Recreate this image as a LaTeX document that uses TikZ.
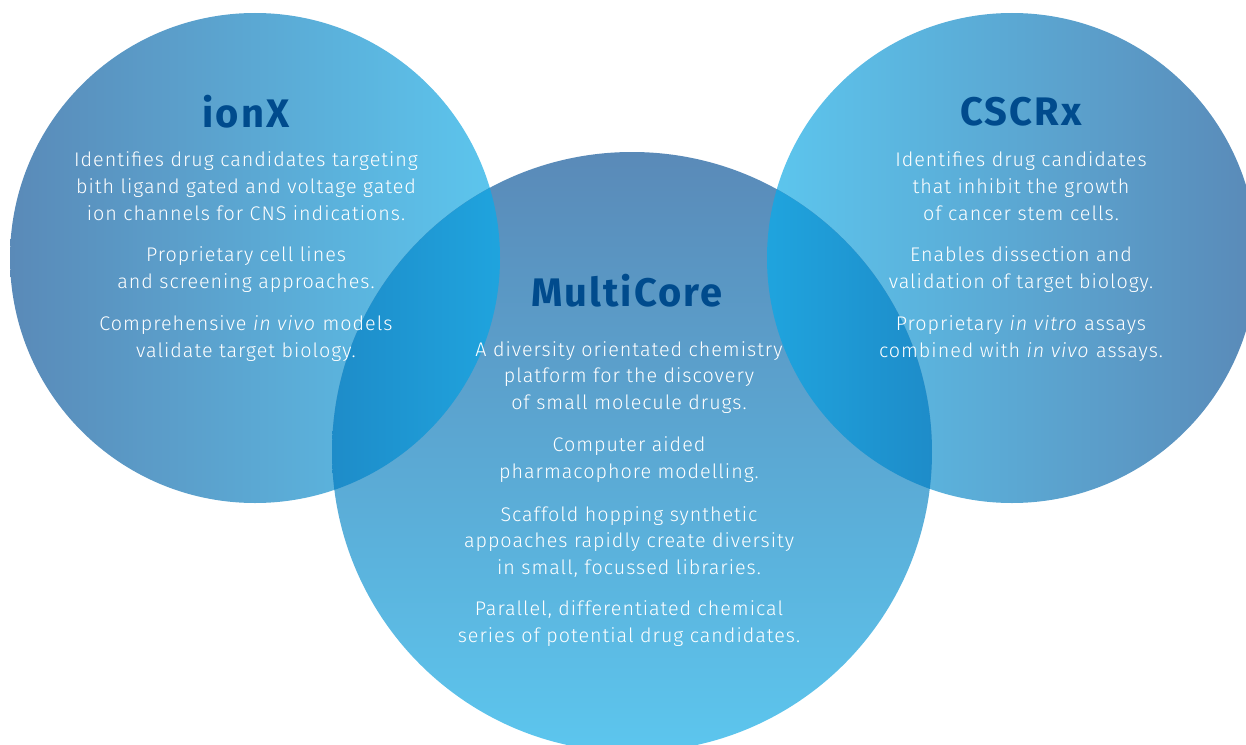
\documentclass[tikz,border=0pt]{standalone}
\usepackage{fontspec}
\setmainfont{Fira Sans Light}[BoldFont={Fira Sans Bold},ItalicFont={Fira Sans Light Italic},LetterSpace=5]
\begin{document}
\definecolor{steel}{HTML}{5A8AB8}
\definecolor{sky}{HTML}{5CC6EE}
\definecolor{lensdark}{HTML}{1E8CC9}
\definecolor{lenslight}{HTML}{1FA4DE}
\definecolor{titleblue}{HTML}{004B8D}
\begin{tikzpicture}[x=1bp,y=-1bp,
  title/.style={font=\fontsize{40}{44}\selectfont\bfseries, text=titleblue, inner sep=0},
  body/.style={font=\fontsize{19.8}{27}\selectfont, text=white, align=center, inner sep=0}]
\useasboundingbox (0,0) rectangle (1246,745);
% circles with gradients
\shade[left color=steel, right color=sky] (255,258) circle (245);
\shade[left color=sky, right color=steel] (1012,258) circle (245);
\shade[top color=steel, bottom color=sky] (632,452) circle (300);
% overlapping lenses
\begin{scope}
  \clip (632,452) circle (300);
  \clip (255,258) circle (245);
  \shade[left color=lensdark, right color=lenslight] (332,152) rectangle (502,760);
\end{scope}
\begin{scope}
  \clip (632,452) circle (300);
  \clip (1012,258) circle (245);
  \shade[left color=lenslight, right color=lensdark] (765,152) rectangle (932,760);
\end{scope}
% ionX
\node[title] (ionx) at (246,112) {ionX};
\node[body] (ion1) at (246,186) {Identifies drug candidates targeting\\bith ligand gated and voltage gated\\ion channels for CNS indications.};
\node[body] (ion2) at (246,270) {Proprietary cell lines\\and screening approaches.};
\node[body] (ion3) at (246,338.5) {Comprehensive \textit{in vivo} models\\validate target biology.};
% CSCRx
\node[title] (cscrx) at (1021,112) {CSCRx};
\node[body] (cs1) at (1021,186) {Identifies drug candidates\\that inhibit the growth\\of cancer stem cells.};
\node[body] (cs2) at (1021,270) {Enables dissection and\\validation of target biology.};
\node[body] (cs3) at (1021,338.5) {Proprietary \textit{in vitro} assays\\combined with \textit{in vivo} assays.};
% MultiCore
\node[title] (multi) at (627,291) {MultiCore};
\node[body] (mc1) at (629,377.5) {A diversity orientated chemistry\\platform for the discovery\\of small molecule drugs.};
\node[body] (mc2) at (629,460) {Computer aided\\pharmacophore modelling.};
\node[body] (mc3) at (629,542) {Scaffold hopping synthetic\\appoaches rapidly create diversity\\in small, focussed libraries.};
\node[body] (mc4) at (629,624) {Parallel, differentiated chemical\\series of potential drug candidates.};
\end{tikzpicture}
\end{document}
